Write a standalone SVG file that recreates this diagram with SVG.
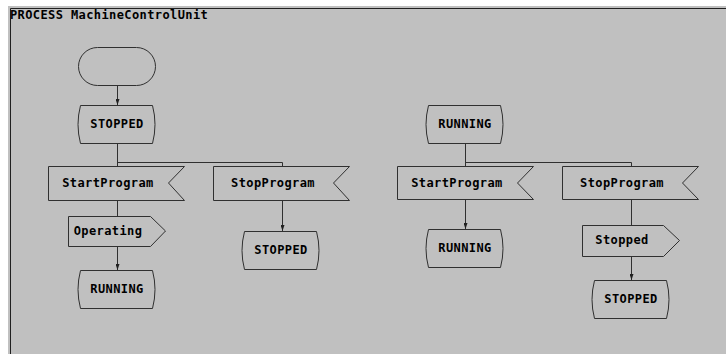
<svg xmlns="http://www.w3.org/2000/svg" width="726" height="354" viewBox="0 0 726 354">
<style>
.s{fill:#c0c0c0;stroke:#303030;stroke-width:1}
.c{fill:none;stroke:#303030;stroke-width:1}
.t{font-family:"DejaVu Sans Mono","Liberation Mono",monospace;font-weight:bold;font-size:12px;letter-spacing:0.4px;fill:#000}
.m{text-anchor:middle}
</style>
<defs>
<marker id="ah" viewBox="0 0 6 4" refX="6" refY="2" markerWidth="6" markerHeight="4" markerUnits="userSpaceOnUse" orient="auto">
<path d="M0,0 L6,2 L0,4 Z" fill="#202020"/>
</marker>
<path id="st" class="s" d="M2.5,0.5 H74.5 Q79.5,19.5 74.5,38.5 H2.5 Q-2.5,19.5 2.5,0.5 Z"/>
</defs>
<rect x="0" y="0" width="726" height="354" fill="#ffffff"/>
<rect x="8" y="6" width="718" height="348" fill="#c0c0c0"/>
<path d="M10.5,354 V8.5 H726" fill="none" stroke="#202020" stroke-width="1"/>
<text class="t" x="10" y="19">PROCESS MachineControlUnit</text>

<g id="connectors">
<line class="c" x1="117.5" y1="85" x2="117.5" y2="105" marker-end="url(#ah)"/>
<path class="c" d="M117.5,143 V166 M117.5,162.5 H282.5 V166"/>
<line class="c" x1="117.5" y1="200" x2="117.5" y2="216"/>
<line class="c" x1="117.5" y1="246" x2="117.5" y2="270" marker-end="url(#ah)"/>
<line class="c" x1="282.5" y1="200" x2="282.5" y2="231" marker-end="url(#ah)"/>
<path class="c" d="M465.5,143 V166 M465.5,162.5 H631.5 V166"/>
<line class="c" x1="465.5" y1="199" x2="465.5" y2="229" marker-end="url(#ah)"/>
<line class="c" x1="631.5" y1="199" x2="631.5" y2="225"/>
<line class="c" x1="631.5" y1="256" x2="631.5" y2="280" marker-end="url(#ah)"/>
</g>

<g id="start">
<rect class="s" x="78.5" y="47.5" width="77" height="38" rx="19" ry="19"/>
</g>

<g id="state_stopped1">
<use href="#st" x="78" y="105"/>
<text class="t m" x="117" y="128">STOPPED</text>
</g>

<g id="input_start1">
<path class="s" d="M48.5,166.5 H184.5 L168.5,183 L184.5,200.5 H48.5 Z"/>
<text class="t m" x="108" y="187">StartProgram</text>
</g>

<g id="input_stop1">
<path class="s" d="M213.5,166.5 H349.5 L333.5,183 L349.5,200.5 H213.5 Z"/>
<text class="t m" x="273" y="187">StopProgram</text>
</g>

<g id="output_operating">
<path class="s" d="M68.5,216.5 H150.5 L165.5,231 L150.5,246.5 H68.5 Z"/>
<text class="t m" x="108" y="235">Operating</text>
</g>

<g id="state_running1">
<use href="#st" x="78" y="270"/>
<text class="t m" x="117" y="293">RUNNING</text>
</g>

<g id="state_stopped2">
<use href="#st" x="242" y="231"/>
<text class="t m" x="281" y="254">STOPPED</text>
</g>

<g id="state_running_hdr">
<use href="#st" x="426" y="105"/>
<text class="t m" x="465" y="128">RUNNING</text>
</g>

<g id="input_start2">
<path class="s" d="M397.5,166.5 H533.5 L517.5,183 L533.5,199.5 H397.5 Z"/>
<text class="t m" x="457" y="187">StartProgram</text>
</g>

<g id="input_stop2">
<path class="s" d="M562.5,166.5 H698.5 L682.5,183 L698.5,199.5 H562.5 Z"/>
<text class="t m" x="622" y="187">StopProgram</text>
</g>

<g id="state_running2">
<use href="#st" x="426" y="229"/>
<text class="t m" x="465" y="252">RUNNING</text>
</g>

<g id="output_stopped">
<path class="s" d="M582.5,225.5 H663.5 L679.5,240.5 L663.5,256.5 H582.5 Z"/>
<text class="t m" x="622" y="244">Stopped</text>
</g>

<g id="state_stopped3">
<use href="#st" x="592" y="280"/>
<text class="t m" x="631" y="303">STOPPED</text>
</g>
</svg>
